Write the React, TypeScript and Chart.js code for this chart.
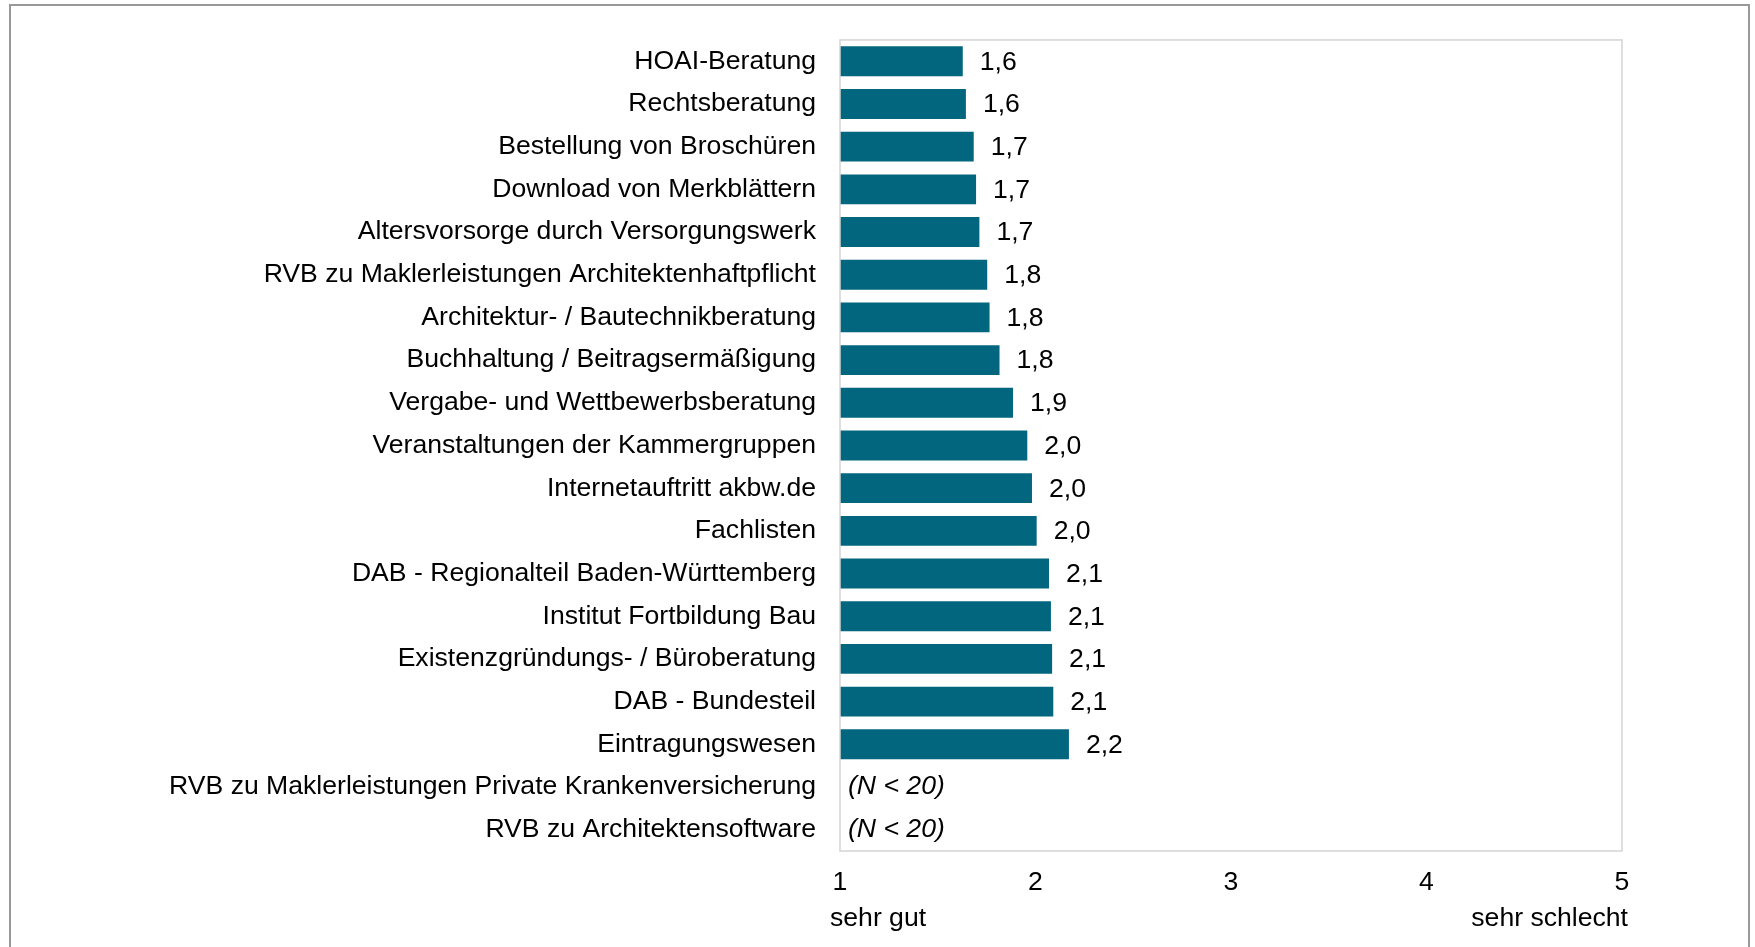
import React, { useEffect, useRef } from "react";
import { Chart, registerables } from "chart.js";

Chart.register(...registerables);

const categories: string[] = [
  "HOAI-Beratung",
  "Rechtsberatung",
  "Bestellung von Broschüren",
  "Download von Merkblättern",
  "Altersvorsorge durch Versorgungswerk",
  "RVB zu Maklerleistungen Architektenhaftpflicht",
  "Architektur- / Bautechnikberatung",
  "Buchhaltung / Beitragsermäßigung",
  "Vergabe- und Wettbewerbsberatung",
  "Veranstaltungen der Kammergruppen",
  "Internetauftritt akbw.de",
  "Fachlisten",
  "DAB - Regionalteil Baden-Württemberg",
  "Institut Fortbildung Bau",
  "Existenzgründungs- / Büroberatung",
  "DAB - Bundesteil",
  "Eintragungswesen",
  "RVB zu Maklerleistungen Private Krankenversicherung",
  "RVB zu Architektensoftware",
];

const values: (number | null)[] = [
  1.628, 1.644, 1.684, 1.696, 1.713, 1.753, 1.765, 1.816, 1.885, 1.958, 1.982,
  2.006, 2.069, 2.079, 2.085, 2.091, 2.171, null, null,
];

const smallSampleNote = "(N < 20)";
const xTickValues: number[] = [1, 2, 3, 4, 5];
const scaleEndLabels: string[] = ["sehr gut", "sehr schlecht"];

const FONT = "'Liberation Sans', Arial, sans-serif";
const FONT_SIZE = 26.6;
const BAR_COLOR = "#03667f";

const overlayPlugin = {
  id: "overlay",
  afterDatasetsDraw(chart: any) {
    const ctx = chart.ctx;
    const xs = chart.scales.x;
    const ys = chart.scales.y;
    const area = chart.chartArea;
    ctx.save();
    ctx.strokeStyle = "#d4d4d4";
    ctx.lineWidth = 1.5;
    ctx.strokeRect(area.left, area.top, area.right - area.left, area.bottom - area.top);
    const meta = chart.getDatasetMeta(0);
    ctx.fillStyle = "#000";
    ctx.textBaseline = "middle";
    meta.data.forEach((bar: any, i: number) => {
      const v = values[i];
      const y = ys.getPixelForValue(i);
      if (v == null) {
        ctx.font = `italic ${FONT_SIZE}px ${FONT}`;
        ctx.textAlign = "left";
        ctx.fillText(smallSampleNote, xs.getPixelForValue(xTickValues[0]) + 8, y);
      } else {
        ctx.font = `${FONT_SIZE}px ${FONT}`;
        ctx.textAlign = "left";
        ctx.fillText(v.toFixed(1).replace(".", ","), bar.x + 17, y + 1);
      }
    });
    ctx.font = `${FONT_SIZE}px ${FONT}`;
    ctx.textAlign = "left";
    ctx.fillText(scaleEndLabels[0], xs.getPixelForValue(xTickValues[0]) - 10, 919);
    ctx.textAlign = "right";
    ctx.fillText(
      scaleEndLabels[1],
      xs.getPixelForValue(xTickValues[xTickValues.length - 1]) + 6,
      919
    );
    ctx.restore();
  },
};

export default function App() {
  const ref = useRef<HTMLCanvasElement | null>(null);

  useEffect(() => {
    if (!ref.current) return;
    const chart = new Chart(ref.current, {
      type: "bar",
      data: {
        labels: categories,
        datasets: [
          {
            data: values as any,
            backgroundColor: BAR_COLOR,
            borderWidth: 0,
            categoryPercentage: 1,
            barPercentage: 0.7,
          },
        ],
      },
      options: {
        indexAxis: "y",
        responsive: false,
        animation: false,
        devicePixelRatio: 1,
        layout: { padding: { left: 0, right: 133, top: 39, bottom: 0 } },
        plugins: {
          legend: { display: false },
          tooltip: { enabled: false },
          title: { display: false },
        },
        scales: {
          x: {
            type: "linear",
            min: xTickValues[0],
            max: xTickValues[xTickValues.length - 1],
            grid: { display: false, drawTicks: false },
            border: { display: false },
            afterBuildTicks: (scale: any) => {
              scale.ticks = xTickValues.map((v) => ({ value: v }));
            },
            ticks: {
              stepSize: 1,
              padding: 16,
              color: "#000",
              font: { family: FONT, size: FONT_SIZE },
              maxRotation: 0,
              callback: (v: any) => String(v),
            },
            afterFit: (scale: any) => {
              scale.height = 96;
            },
          },
          y: {
            type: "category",
            grid: { display: false, drawTicks: false },
            border: { display: false },
            ticks: {
              padding: 24,
              color: "#000",
              font: { family: FONT, size: FONT_SIZE },
              autoSkip: false,
            },
            afterFit: (scale: any) => {
              scale.width = 840;
            },
          },
        },
      },
      plugins: [overlayPlugin],
    });
    return () => chart.destroy();
  }, []);

  return (
    <>
      <canvas
        ref={ref}
        width={1755}
        height={947}
        style={{ position: "absolute", left: 0, top: 0, width: 1755, height: 947 }}
      />
      <div
        style={{
          position: "absolute",
          left: 9,
          top: 4,
          width: 1741,
          height: 943,
          boxSizing: "border-box",
          border: "2px solid #999999",
          borderBottom: "none",
          pointerEvents: "none",
        }}
      />
    </>
  );
}
